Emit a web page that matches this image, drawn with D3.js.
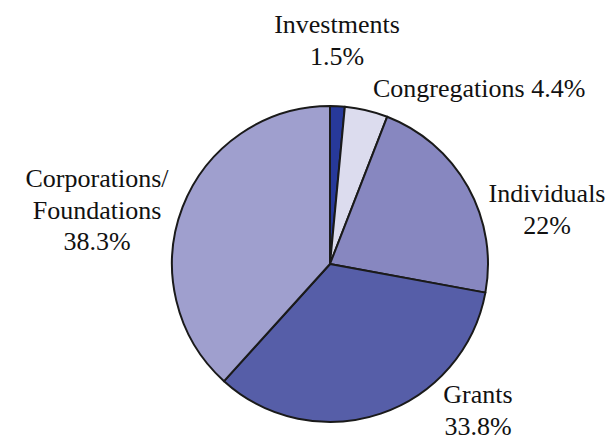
<!DOCTYPE html>
<html>
    <head>
        <meta charset="utf-8">
        <script src="https://cdn.jsdelivr.net/npm/d3@7"></script>
        <style>
            body { margin: 0; background: white; }
        </style>
    </head>
    <body>
        <script>
            var categories = ["Investments", "Congregations", "Individuals", "Grants", "Corporations/Foundations"];
            var values = [1.5, 4.4, 22, 33.8, 38.3];
            var valueLabels = ["1.5%", "4.4%", "22%", "33.8%", "38.3%"];
            var colors = ["#27399a", "#dcdcee", "#8787c0", "#565ea8", "#9f9fce"];

            // label text lines + anchor (layout only)
            var labelLayout = [
                { lines: ["Investments", "1.5%"], x: 337, y: 33, anchor: "middle" },
                { lines: ["Congregations 4.4%"], x: 373, y: 97, anchor: "start" },
                { lines: ["Individuals", "22%"], x: 547, y: 202, anchor: "middle" },
                { lines: ["Grants", "33.8%"], x: 478, y: 403, anchor: "middle" },
                { lines: ["Corporations/", "Foundations", "38.3%"], x: 97, y: 187, anchor: "middle" }
            ];

            var width = 609, height = 439;
            var cx = 330, cy = 264, radius = 158;

            var svg = d3.select("body").append("svg")
                        .attr("width", width)
                        .attr("height", height);

            var data = categories.map((c, i) => ({ name: c, value: values[i], color: colors[i] }));

            var pie = d3.pie().sort(null).value(d => d.value);
            var arc = d3.arc().innerRadius(0).outerRadius(radius);

            var fig = svg.append("g")
                         .attr("transform", "translate(" + cx + "," + cy + ")");

            fig.selectAll("path").data(pie(data))
               .enter()
               .append("path")
               .attr("d", arc)
               .attr("fill", d => d.data.color)
               .attr("stroke", "#1a1a1a")
               .attr("stroke-width", 2)
               .attr("stroke-linejoin", "round");

            var labels = svg.append("g")
                            .style("font-family", "Tinos, 'Liberation Serif', 'Times New Roman', Times, 'Noto Serif', 'DejaVu Serif', serif")
                            .style("font-size", "26px")
                            .attr("fill", "#111");

            labelLayout.forEach(function (l) {
                var t = labels.append("text")
                              .attr("x", l.x)
                              .attr("y", l.y)
                              .attr("text-anchor", l.anchor);
                l.lines.forEach(function (line, j) {
                    t.append("tspan")
                     .attr("x", l.x)
                     .attr("dy", j == 0 ? 0 : 31.5)
                     .text(line);
                });
            });
        </script>
    </body>
</html>
